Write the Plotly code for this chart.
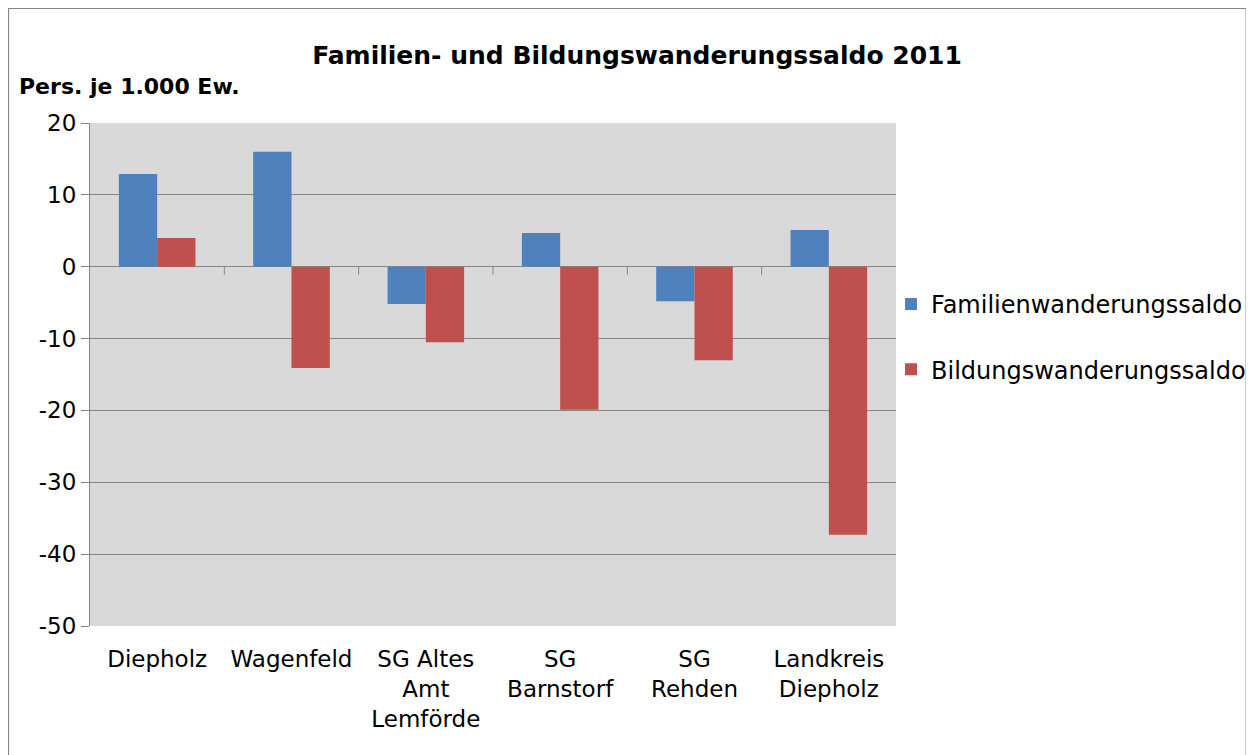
import plotly.graph_objects as go

categories = ["Diepholz", "Wagenfeld", "SG Altes<br>Amt<br>Lemförde", "SG<br>Barnstorf", "SG<br>Rehden", "Landkreis<br>Diepholz"]
familien = [12.9, 16.0, -5.2, 4.7, -4.8, 5.1]
bildung = [4.0, -14.1, -10.5, -19.9, -13.0, -37.3]
y_tickvals = [20, 10, 0, -10, -20, -30, -40, -50]
y_ticktext = ["20", "10", "0", "-10", "-20", "-30", "-40", "-50"]

FONT = "DejaVu Sans, Verdana, sans-serif"
W, H = 1254, 755
OFF = 8  # page body offset
L, T = 90 - OFF, 123 - OFF
PW, PH = 807, 503
R = W - L - PW
B = H - T - PH


def px_x(x):  # screen x -> paper
    return (x - OFF - L) / PW


def px_y(y):  # screen y -> paper
    return 1 - (y - OFF - T) / PH


fig = go.Figure()
fig.add_trace(go.Bar(x=categories, y=familien, name="Familienwanderungssaldo",
                     marker=dict(color="#4f81bd", line=dict(width=0)), legendgroup="a"))
fig.add_trace(go.Bar(x=categories, y=bildung, name="Bildungswanderungssaldo",
                     marker=dict(color="#c0504d", line=dict(width=0)), legendgroup="b"))

# category boundary tick marks on the zero line
for i in range(len(categories) - 1):
    fig.add_shape(type="line", xref="x", yref="y", x0=i + 0.5, x1=i + 0.5,
                  ysizemode="pixel", yanchor=0, y0=0, y1=-8,
                  line=dict(color="#868686", width=1))

# outer frame
fig.add_shape(type="rect", xref="paper", yref="paper",
              x0=px_x(8), x1=px_x(1248), y0=px_y(780), y1=px_y(8),
              line=dict(color="#868686", width=2), fillcolor="rgba(0,0,0,0)", layer="below")

fig.add_annotation(text="<b>Pers. je 1.000 Ew.</b>", xref="paper", yref="paper",
                   x=px_x(17), y=px_y(86), xanchor="left", yanchor="middle", showarrow=False,
                   font=dict(family=FONT, size=22, color="#000000"))

fig.update_layout(
    width=W, height=H,
    margin=dict(l=L, r=R, t=T, b=B),
    paper_bgcolor="white",
    plot_bgcolor="#d9d9d9",
    barmode="group",
    bargap=0.43,
    bargroupgap=0,
    title=dict(text="<b>Familien- und Bildungswanderungssaldo 2011</b>",
               x=(637 - OFF) / W, xanchor="center", y=1 - (55 - OFF) / H, yanchor="middle",
               font=dict(family=FONT, size=25, color="#000000")),
    font=dict(family=FONT, size=23, color="#000000"),
    legend=dict(x=0.9926, y=0.684, xanchor="left", yanchor="top",
                font=dict(family=FONT, size=24, color="#000000"),
                tracegroupgap=31, traceorder="grouped",
                bgcolor="rgba(0,0,0,0)"),
    showlegend=True,
)
fig.update_xaxes(showgrid=False, showline=False, ticks="", ticklabelstandoff=17,
                 tickfont=dict(family=FONT, size=23, color="#000000"))
fig.update_yaxes(range=[-50, 20], tickvals=y_tickvals, ticktext=y_ticktext,
                 showgrid=True, gridcolor="#868686",
                 gridwidth=1, zeroline=True, zerolinecolor="#868686", zerolinewidth=1,
                 showline=True, linecolor="#868686", linewidth=1,
                 ticks="outside", ticklen=8, tickcolor="#868686",
                 tickfont=dict(family=FONT, size=23, color="#000000"))

fig.write_html("out.html")
